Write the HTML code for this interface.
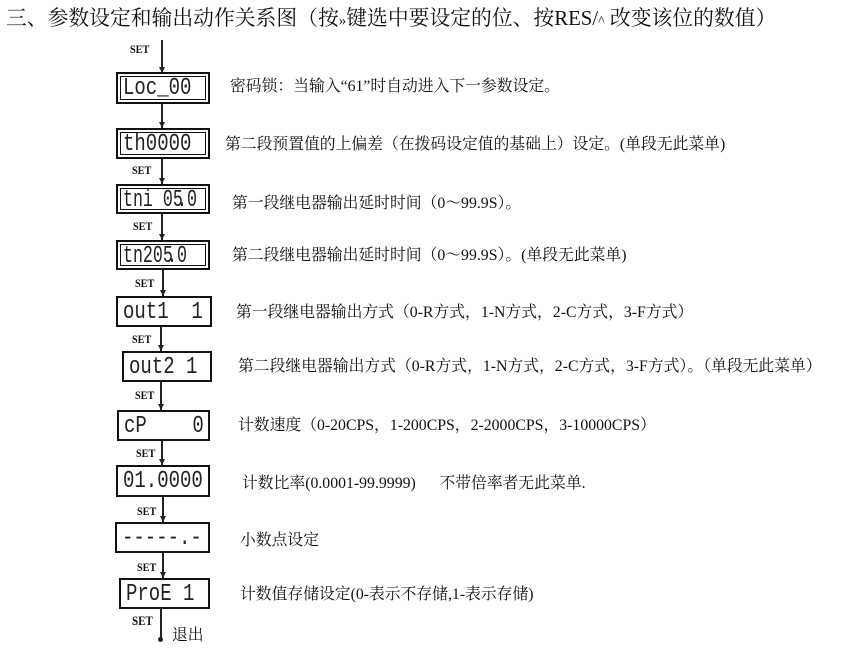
<!DOCTYPE html>
<html><head><meta charset="utf-8"><style>
body{margin:0;width:850px;height:652px;background:#fff;position:relative;overflow:hidden;font-family:"Liberation Serif","Noto Serif CJK SC",serif;color:#111}
.a{position:absolute;white-space:nowrap}
.t{position:absolute;white-space:pre;font-size:15.8px;line-height:16px}
.box{position:absolute;border:2px solid #111;box-sizing:border-box;background:#fff;overflow:hidden}
.box.d{outline:1px solid #111;outline-offset:-5px}
.lcd{position:absolute;left:5px;top:2px;white-space:pre;font-family:"Liberation Mono",monospace;font-size:20px;line-height:22px;transform:scale(0.95,1.2);transform-origin:left top;color:#222}
.lcd.n{transform:scale(0.83,1.2)}
.dt{letter-spacing:-7px}
.v{position:absolute;width:2px;background:#222}
.s{position:absolute;font-size:12px;font-weight:bold;font-family:"Liberation Serif",serif;transform:scaleX(.85);transform-origin:left}
.arr{position:absolute;width:0;height:0;border-left:3px solid transparent;border-right:3px solid transparent;border-top:6px solid #222}
</style></head><body>
<div class="a" style="left:6px;top:7px;font-size:20.8px;line-height:24px">三、参数设定和输出动作关系图（按<span style="font-size:15px">»</span>键选中要设定的位、按RES/<span style="font-size:14px">^</span> 改变该位的数值）</div>

<div class="v" style="left:161px;top:40px;height:33px"></div><div class="arr" style="left:159px;top:67px"></div>
<div class="s" style="left:130px;top:42px">SET</div>
<div class="box d" style="left:116px;top:72px;width:94px;height:32px"><div class="lcd">Loc_00</div></div>
<div class="t" style="left:230px;top:79px">密码锁：当输入“61”时自动进入下一参数设定。</div>

<div class="v" style="left:161px;top:104px;height:24px"></div><div class="arr" style="left:159px;top:122px"></div>
<div class="box d" style="left:116px;top:128px;width:94px;height:31px"><div class="lcd">th0000</div></div>
<div class="t" style="left:225px;top:137px">第二段预置值的上偏差（在拨码设定值的基础上）设定。(单段无此菜单)</div>

<div class="v" style="left:161px;top:159px;height:25px"></div><div class="arr" style="left:159px;top:178px"></div>
<div class="s" style="left:132px;top:163px">SET</div>
<div class="box d" style="left:116px;top:184px;width:94px;height:30px"><div class="lcd n">tni 0<span class="dt">5</span>.0</div></div>
<div class="t" style="left:232px;top:196px">第一段继电器输出延时时间（0～99.9S）。</div>

<div class="v" style="left:161px;top:214px;height:26px"></div><div class="arr" style="left:159px;top:234px"></div>
<div class="s" style="left:133px;top:219px">SET</div>
<div class="box d" style="left:116px;top:240px;width:94px;height:30px"><div class="lcd n">tn20<span class="dt">5</span>.0</div></div>
<div class="t" style="left:232px;top:248px">第二段继电器输出延时时间（0～99.9S）。(单段无此菜单)</div>

<div class="v" style="left:162px;top:270px;height:26px"></div><div class="arr" style="left:160px;top:290px"></div>
<div class="s" style="left:135px;top:276px">SET</div>
<div class="box" style="left:116px;top:296px;width:96px;height:31px"><div class="lcd">out1  1</div></div>
<div class="t" style="left:236px;top:305px">第一段继电器输出方式（0-R方式，1-N方式，2-C方式，3-F方式）</div>

<div class="v" style="left:160px;top:327px;height:24px"></div><div class="arr" style="left:158px;top:345px"></div>
<div class="s" style="left:132px;top:332px">SET</div>
<div class="box" style="left:122px;top:351px;width:90px;height:31px"><div class="lcd">out2 1</div></div>
<div class="t" style="left:238px;top:359px">第二段继电器输出方式（0-R方式，1-N方式，2-C方式，3-F方式）。（单段无此菜单）</div>

<div class="v" style="left:160px;top:382px;height:28px"></div><div class="arr" style="left:158px;top:404px"></div>
<div class="s" style="left:135px;top:388px">SET</div>
<div class="box" style="left:117px;top:410px;width:93px;height:31px"><div class="lcd">cP    0</div></div>
<div class="t" style="left:238px;top:418px">计数速度（0-20CPS，1-200CPS，2-2000CPS，3-10000CPS）</div>

<div class="v" style="left:161px;top:441px;height:24px"></div><div class="arr" style="left:159px;top:459px"></div>
<div class="s" style="left:136px;top:446px">SET</div>
<div class="box" style="left:116px;top:465px;width:94px;height:32px"><div class="lcd">01.0000</div></div>
<div class="t" style="left:242px;top:476px">计数比率(0.0001-99.9999)      不带倍率者无此菜单.</div>

<div class="v" style="left:162px;top:497px;height:25px"></div><div class="arr" style="left:160px;top:516px"></div>
<div class="s" style="left:137px;top:504px">SET</div>
<div class="box" style="left:115px;top:522px;width:95px;height:31px"><div class="lcd">-----.-</div></div>
<div class="t" style="left:240px;top:533px">小数点设定</div>

<div class="v" style="left:162px;top:553px;height:25px"></div><div class="arr" style="left:160px;top:572px"></div>
<div class="s" style="left:137px;top:560px">SET</div>
<div class="box" style="left:119px;top:578px;width:91px;height:31px"><div class="lcd">ProE 1</div></div>
<div class="t" style="left:240px;top:587px">计数值存储设定(0-表示不存储,1-表示存储)</div>

<div class="v" style="left:160px;top:609px;height:30px"></div>
<div class="a" style="left:158px;top:637px;width:5px;height:5px;border-radius:50%;background:#222"></div>
<div class="s" style="left:132px;top:613px;font-size:13px">SET</div>
<div class="t" style="left:172px;top:628px">退出</div>
</body></html>
